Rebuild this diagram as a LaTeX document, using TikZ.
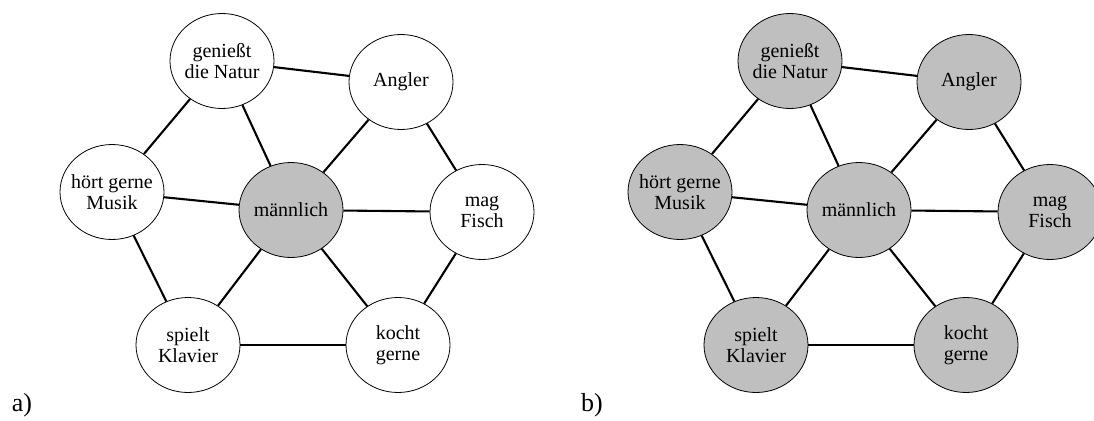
\documentclass[tikz,border=0pt]{standalone}
\usepackage{fontspec}
\setmainfont{Liberation Serif}
\usetikzlibrary{shapes.geometric}

\tikzset{
  merkmal/.style={ellipse, draw, line width=0.8pt, fill=white, minimum width=104pt, minimum height=95pt, inner xsep=-10pt, inner ysep=0pt, align=center, font=\fontsize{20}{21}\selectfont},
  aktiv/.style={merkmal, fill=black!25},
  kante/.style={line width=2.1pt},
  marke/.style={font=\fontsize{26}{28}\selectfont}
}

\begin{document}
\begin{tikzpicture}[x=1pt,y=-1pt]

\useasboundingbox (0,0) rectangle (1094,420);

% a) nur maennlich aktiv
\node[merkmal] (a-natur) at (222,61) {genießt\\die Natur};
\node[merkmal] (a-angler) at (401,82) {Angler};
\node[merkmal] (a-musik) at (112,192) {hört gerne\\Musik};
\node[aktiv] (a-mann) at (291,210) {männlich};
\node[merkmal] (a-fisch) at (482,212) {mag\\Fisch};
\node[merkmal] (a-klavier) at (188,345) {spielt\\Klavier};
\node[merkmal] (a-kocht) at (398,345) {kocht\\gerne};

\draw[kante] (a-natur) -- (a-angler);
\draw[kante] (a-natur) -- (a-musik);
\draw[kante] (a-natur) -- (a-mann);
\draw[kante] (a-angler) -- (a-mann);
\draw[kante] (a-angler) -- (a-fisch);
\draw[kante] (a-musik) -- (a-mann);
\draw[kante] (a-musik) -- (a-klavier);
\draw[kante] (a-mann) -- (a-fisch);
\draw[kante] (a-mann) -- (a-klavier);
\draw[kante] (a-mann) -- (a-kocht);
\draw[kante] (a-fisch) -- (a-kocht);
\draw[kante] (a-klavier) -- (a-kocht);

\node[marke] (a-label) at (22,405) {a)};

% b) alles aktiv
\node[aktiv] (b-natur) at (790,61) {genießt\\die Natur};
\node[aktiv] (b-angler) at (969,82) {Angler};
\node[aktiv] (b-musik) at (680,192) {hört gerne\\Musik};
\node[aktiv] (b-mann) at (859,210) {männlich};
\node[aktiv] (b-fisch) at (1050,212) {mag\\Fisch};
\node[aktiv] (b-klavier) at (756,345) {spielt\\Klavier};
\node[aktiv] (b-kocht) at (966,345) {kocht\\gerne};

\draw[kante] (b-natur) -- (b-angler);
\draw[kante] (b-natur) -- (b-musik);
\draw[kante] (b-natur) -- (b-mann);
\draw[kante] (b-angler) -- (b-mann);
\draw[kante] (b-angler) -- (b-fisch);
\draw[kante] (b-musik) -- (b-mann);
\draw[kante] (b-musik) -- (b-klavier);
\draw[kante] (b-mann) -- (b-fisch);
\draw[kante] (b-mann) -- (b-klavier);
\draw[kante] (b-mann) -- (b-kocht);
\draw[kante] (b-fisch) -- (b-kocht);
\draw[kante] (b-klavier) -- (b-kocht);

\node[marke] (b-label) at (592,405) {b)};

\end{tikzpicture}
\end{document}
